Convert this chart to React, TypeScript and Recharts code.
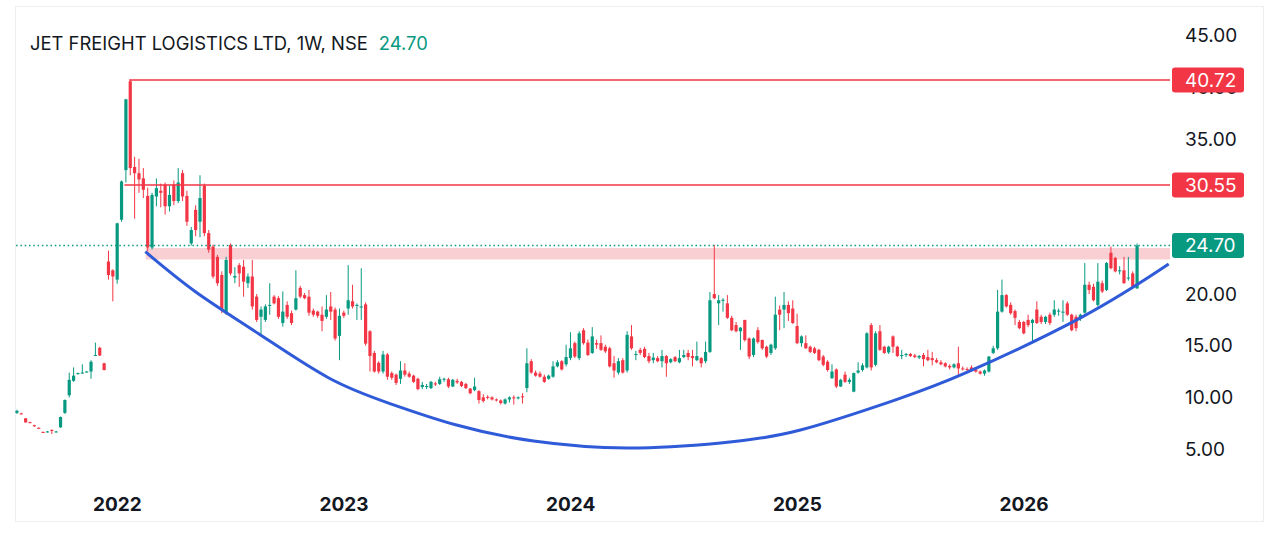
import React from 'react';
import { ComposedChart, Bar, Line, XAxis, YAxis, ReferenceLine, ReferenceArea } from 'recharts';

type Candle = [number, number, number, number]; // open, high, low, close

const candles2021: Candle[] = [
  [8.5, 8.8, 8.4, 8.7], [8.45, 8.5, 8.35, 8.4], [7.97, 8.0, 7.55, 7.58], [7.6, 7.65, 7.5, 7.55],
  [7.3, 7.35, 7.15, 7.2], [7.05, 7.1, 6.95, 7.0], [6.65, 6.7, 6.55, 6.6], [6.65, 6.75, 6.6, 6.7],
  [6.85, 6.9, 6.45, 6.75], [6.65, 6.75, 6.6, 6.7], [7.1, 8.15, 7.05, 8.1], [8.5, 9.8, 8.4, 9.74],
  [10.2, 12.4, 10.0, 11.7], [11.6, 12.9, 11.5, 12.1], [12.3, 12.4, 12.2, 12.35], [12.35, 13.2, 12.3, 12.4],
  [12.45, 12.55, 12.4, 12.5], [12.5, 13.6, 11.8, 13.45], [14.05, 15.3, 14.0, 14.1], [14.8, 14.9, 14.0, 14.05],
  [13.3, 13.35, 12.6, 12.65], [23.15, 24.2, 21.4, 21.85], [22.3, 22.4, 19.3, 21.7],
];

const candles2022: Candle[] = [
  [21.4, 26.9, 21.0, 26.85], [27.2, 31.0, 27.0, 30.9], [32.0, 38.9, 30.8, 38.85], [40.6, 40.72, 31.5, 32.2],
  [32.3, 33.3, 27.3, 31.7], [31.7, 33.1, 29.8, 31.1], [31.2, 32.2, 29.3, 30.1], [29.5, 30.3, 24.15, 24.5],
  [24.5, 29.8, 24.3, 29.6], [29.45, 31.2, 28.5, 30.25], [30.0, 30.7, 28.4, 29.8], [30.6, 30.8, 27.7, 28.5],
  [28.5, 30.5, 28.0, 29.6], [30.6, 31.0, 28.6, 29.0], [29.0, 32.2, 28.8, 30.8], [31.7, 32.0, 29.0, 29.45],
  [29.5, 30.0, 26.6, 27.0], [24.9, 26.5, 24.7, 26.2], [28.15, 28.6, 25.6, 26.2], [27.0, 31.5, 25.5, 29.3],
  [30.5, 30.7, 25.6, 25.9], [25.9, 26.2, 24.0, 24.3], [24.6, 24.8, 21.5, 21.7], [23.6, 23.8, 20.8, 21.05],
  [21.85, 22.2, 18.15, 18.5], [18.15, 23.6, 18.0, 23.3], [24.75, 24.9, 21.8, 22.0], [21.6, 22.6, 21.05, 21.75],
  [22.8, 23.0, 20.7, 22.0], [22.65, 23.3, 19.75, 21.2], [21.05, 22.0, 20.6, 21.7], [21.7, 23.3, 18.5, 18.8],
  [19.75, 20.0, 17.3, 17.5], [17.8, 18.8, 16.0, 18.5], [17.5, 19.0, 17.3, 18.8], [18.9, 21.05, 18.0, 18.95],
  [19.75, 19.9, 19.0, 19.1], [19.6, 19.8, 17.6, 17.8], [17.2, 20.25, 16.85, 18.3], [18.95, 19.3, 17.6, 17.8],
  [18.15, 18.4, 17.0, 17.2], [18.5, 22.3, 18.4, 19.6], [20.6, 20.8, 19.6, 19.75], [19.9, 20.1, 19.5, 19.6],
  [19.75, 20.4, 17.9, 18.2], [18.4, 18.6, 17.8, 18.0], [18.3, 18.4, 17.7, 17.9], [18.0, 18.8, 16.4, 17.4],
  [17.8, 19.9, 17.6, 18.5], [18.8, 20.2, 17.5, 18.3], [18.5, 18.7, 15.5, 15.7], [15.95, 18.6, 13.6, 17.9],
];

const candles2023: Candle[] = [
  [18.2, 18.4, 17.7, 17.9], [18.6, 22.8, 18.0, 19.4], [19.3, 20.9, 18.6, 18.8], [18.85, 19.1, 17.5, 18.95],
  [18.7, 22.5, 17.5, 18.8], [19.0, 19.2, 15.0, 15.2], [16.4, 16.5, 12.5, 14.0], [14.3, 14.5, 12.4, 12.5],
  [13.35, 13.5, 12.3, 12.5], [12.5, 14.5, 12.3, 14.15], [14.15, 14.3, 11.7, 12.0], [12.35, 12.5, 11.7, 11.9],
  [12.2, 12.3, 11.2, 11.4], [11.8, 13.5, 11.3, 12.6], [12.6, 13.3, 12.0, 12.2], [12.3, 12.5, 11.9, 12.0],
  [12.1, 12.2, 11.4, 11.5], [11.8, 11.9, 10.7, 10.8], [11.0, 11.5, 10.8, 11.2], [11.05, 11.3, 10.8, 11.1],
  [10.9, 11.6, 10.8, 11.5], [11.35, 11.5, 11.1, 11.25], [11.3, 12.0, 11.2, 11.75], [11.7, 11.9, 11.5, 11.8],
  [11.75, 11.9, 10.9, 11.05], [11.05, 11.8, 11.0, 11.7], [11.6, 11.8, 11.3, 11.45], [11.5, 11.6, 11.0, 11.1],
  [11.3, 11.4, 10.8, 10.9], [10.85, 10.9, 10.3, 10.4], [10.7, 11.9, 10.6, 11.05], [10.6, 10.7, 9.4, 9.75],
  [10.0, 10.3, 9.5, 9.65], [10.05, 10.2, 9.8, 9.95], [10.0, 10.1, 9.7, 9.8], [9.8, 9.9, 9.6, 9.7],
  [9.7, 9.8, 9.3, 9.45], [9.4, 9.9, 9.3, 9.8], [9.8, 10.1, 9.5, 10.0], [10.0, 10.2, 9.3, 9.9],
  [9.9, 10.1, 9.8, 10.0], [10.1, 10.4, 9.4, 10.0], [10.9, 14.75, 10.5, 13.3], [13.5, 13.7, 12.3, 12.4],
  [12.4, 12.6, 12.0, 12.1], [12.3, 12.5, 11.9, 12.0], [12.0, 12.2, 11.4, 11.5], [11.8, 12.2, 11.7, 12.1],
  [12.0, 13.5, 11.9, 13.0], [13.0, 13.6, 12.9, 13.4], [13.5, 13.6, 12.6, 12.7], [13.2, 15.1, 13.0, 13.9],
];

const candles2024: Candle[] = [
  [13.8, 16.3, 13.6, 14.75], [15.25, 15.4, 13.8, 13.95], [13.8, 16.4, 13.6, 16.2], [16.5, 16.7, 15.1, 15.25],
  [15.3, 15.6, 14.0, 14.1], [14.3, 16.8, 14.2, 15.9], [15.25, 15.6, 14.7, 15.1], [15.25, 16.0, 14.5, 14.6],
  [14.9, 15.1, 14.3, 14.45], [14.75, 14.9, 12.9, 13.0], [13.3, 14.0, 11.9, 12.6], [12.4, 13.8, 12.2, 13.5],
  [13.6, 13.8, 12.3, 12.4], [12.6, 16.4, 12.4, 16.05], [15.9, 17.0, 14.6, 14.75], [14.1, 14.5, 13.6, 14.2],
  [14.6, 14.8, 14.1, 14.3], [14.7, 14.9, 13.8, 13.9], [14.0, 14.3, 13.3, 13.5], [13.6, 14.3, 13.3, 13.85],
  [13.8, 14.0, 13.4, 13.5], [13.5, 14.6, 12.9, 14.0], [14.0, 14.1, 12.0, 13.3], [13.4, 13.8, 13.3, 13.7],
  [13.9, 14.0, 13.4, 13.5], [13.4, 14.6, 13.3, 13.8], [13.9, 14.6, 13.8, 14.1], [14.3, 14.6, 13.6, 13.9],
  [14.0, 14.6, 13.0, 13.8], [13.6, 15.4, 13.5, 14.0], [13.8, 13.9, 12.9, 13.3], [13.5, 15.4, 13.3, 14.4],
  [14.4, 20.2, 14.3, 19.4], [20.0, 24.76, 19.5, 19.6], [19.1, 19.9, 17.0, 19.4], [19.35, 19.6, 18.3, 19.45],
  [19.1, 19.9, 17.6, 17.7], [17.7, 17.9, 16.4, 16.5], [17.0, 17.3, 16.3, 16.4], [16.4, 16.8, 14.6, 16.75],
  [17.5, 17.5, 15.4, 15.55], [15.7, 15.8, 13.7, 13.95], [14.1, 15.8, 13.9, 15.7], [16.5, 16.8, 15.2, 15.35],
  [15.55, 15.6, 14.6, 14.75], [14.9, 15.0, 13.8, 13.95], [14.3, 15.2, 14.1, 15.1], [14.75, 19.75, 14.6, 18.0],
  [18.5, 18.9, 16.5, 18.0], [18.5, 20.2, 16.7, 18.95], [18.95, 19.3, 17.4, 18.15], [18.6, 19.4, 17.1, 17.2],
];

const candles2025: Candle[] = [
  [16.9, 18.1, 15.15, 15.25], [15.25, 16.0, 14.9, 15.9], [15.25, 16.0, 14.7, 14.75], [14.9, 15.0, 14.3, 14.4],
  [14.75, 14.9, 14.2, 14.3], [14.6, 14.7, 13.5, 13.6], [13.95, 14.1, 13.0, 13.15], [13.45, 13.6, 12.5, 12.65],
  [11.85, 13.2, 11.8, 12.5], [12.7, 12.8, 10.9, 11.05], [11.05, 11.8, 11.0, 11.7], [12.2, 12.5, 11.4, 11.5],
  [11.5, 11.9, 11.3, 11.7], [10.55, 12.4, 10.5, 12.35], [12.4, 13.4, 12.3, 12.6], [12.65, 13.3, 12.5, 13.1],
  [12.9, 16.3, 12.8, 16.2], [17.0, 17.2, 12.6, 12.9], [13.15, 16.4, 13.0, 16.2], [16.4, 17.0, 14.5, 14.6],
  [14.9, 15.0, 14.2, 14.3], [14.35, 15.0, 14.2, 14.9], [15.9, 16.0, 14.3, 14.9], [14.9, 15.0, 13.9, 14.0],
  [14.0, 14.6, 13.7, 14.1], [14.1, 14.3, 13.9, 14.2], [14.2, 14.3, 13.9, 14.0], [14.05, 14.2, 13.8, 13.9],
  [13.85, 14.1, 13.7, 14.0], [14.1, 14.3, 13.0, 13.7], [13.9, 14.6, 13.5, 13.6], [13.8, 14.4, 13.1, 13.6],
  [13.6, 13.8, 13.3, 13.4], [13.4, 13.6, 13.1, 13.2], [13.3, 13.4, 12.9, 13.0], [13.05, 13.2, 12.7, 12.9],
  [12.9, 13.3, 12.8, 13.2], [13.3, 14.9, 12.0, 12.8], [12.8, 13.0, 12.6, 12.75], [12.75, 12.9, 12.5, 12.7],
  [12.9, 13.1, 12.5, 12.6], [12.7, 12.9, 12.4, 12.5], [12.5, 12.6, 12.2, 12.3], [12.3, 12.7, 12.1, 12.6],
  [12.5, 14.0, 12.4, 13.95], [14.3, 15.0, 14.2, 14.75], [14.75, 20.4, 14.6, 18.3], [18.3, 21.4, 18.2, 19.9],
  [19.9, 20.0, 18.7, 18.8], [18.95, 19.2, 18.0, 18.15], [18.35, 18.5, 17.0, 17.7], [17.3, 17.5, 16.6, 16.7],
];

const candles2026: Candle[] = [
  [17.3, 17.4, 16.1, 16.2], [17.5, 18.0, 16.8, 17.0], [17.2, 17.6, 15.4, 17.5], [18.5, 19.3, 17.1, 17.2],
  [17.8, 18.0, 17.1, 17.3], [17.3, 17.9, 17.1, 17.8], [18.0, 18.2, 17.0, 17.2], [18.0, 19.4, 17.8, 18.5],
  [18.3, 18.6, 17.9, 18.4], [18.2, 19.4, 17.3, 18.3], [19.1, 19.3, 17.9, 18.0], [18.0, 18.1, 16.4, 16.5],
  [17.8, 18.0, 16.4, 16.7], [17.6, 18.1, 17.4, 18.0], [18.2, 23.0, 18.1, 20.9], [20.9, 21.2, 20.0, 20.4],
  [20.7, 21.0, 19.3, 19.4], [18.95, 23.0, 18.8, 21.2], [21.05, 21.3, 20.1, 20.25], [20.4, 23.1, 20.3, 23.0],
  [24.0, 24.6, 22.4, 22.5], [23.5, 23.6, 22.1, 22.2], [22.2, 22.7, 21.9, 22.3], [22.3, 23.6, 21.0, 21.05],
  [21.5, 23.6, 21.3, 21.6], [22.0, 22.2, 20.6, 20.7], [20.55, 24.9, 20.5, 24.7],
];

const yearLabels = ['2022', '2023', '2024', '2025', '2026'];
const axisPriceTicks = [5, 10, 15, 20, 35, 40, 45];
const lastPrice = 24.7;
const resistanceTop = 40.72;
const resistanceMid = 30.55;
const resistanceTopStart = 25.7; // week index where the ray starts
const resistanceMidStart = 24.6;
const zoneLow = 23.35;
const zoneHigh = 24.45;
const zoneStart = 29.5;
const emptyWeeksRight = 7;

// cup curve drawing: [week index, price]
const cupWeeks = [29.4, 40.9, 55.4, 71.4, 85.2, 100.8, 118.5, 140, 161.4, 179.7, 201.5, 217.6, 244.4, 264.2];
const cupPrices = [24.1, 20.23, 16.16, 11.9, 9.45, 7.32, 5.77, 5.1, 5.58, 6.84, 9.75, 12.36, 17.79, 22.9];

const GREEN = '#089981';
const RED = '#f23645';
const BLUE = '#2f5ad8';
const TEXT = '#131722';
const FONT = 'Inter, "Noto Sans", sans-serif';

const tagPrices = [lastPrice, resistanceMid, resistanceTop];
const allTicks = [...axisPriceTicks, ...tagPrices]; // tags last so they paint over tick text

const yearBlocks = [candles2021, candles2022, candles2023, candles2024, candles2025, candles2026];
const allCandles: Candle[] = yearBlocks.flat();
const yearStartIdx = yearLabels.map((_, k) =>
  yearBlocks.slice(0, k + 1).reduce((s, b) => s + b.length, 0)
);
const totalSlots = allCandles.length + emptyWeeksRight;

const rows: any[] = [];
for (let i = 0; i < totalSlots; i++) {
  const cd = allCandles[i];
  if (cd) {
    const [o, h, l, c] = cd;
    rows.push({ i, o, h, l, c, range: [l, h] });
  } else {
    rows.push({ i });
  }
}
const cupData = cupWeeks.map((w, k) => ({ i: w, v: cupPrices[k] }));

const CandleShape = (props: any) => {
  const { x, y, width, height, payload } = props;
  if (!payload || payload.o == null || x == null || y == null) return null;
  const { o, h, l, c } = payload;
  const top = Math.min(y, y + height);
  const bot = Math.max(y, y + height);
  const span = h - l;
  const py = (v: number) => (span === 0 ? top : top + ((h - v) / span) * (bot - top));
  const color = c >= o ? GREEN : RED;
  const cx = x + width / 2;
  const bTop = py(Math.max(o, c));
  const bBot = py(Math.min(o, c));
  return (
    <g>
      <rect x={cx - 0.5} y={top} width={1} height={Math.max(bot - top, 1)} fill={color} />
      <rect x={cx - 1.6} y={bTop} width={3.2} height={Math.max(bBot - bTop, 1)} fill={color} />
    </g>
  );
};

const PriceTick = (props: any) => {
  const { x, y, payload } = props;
  const v = Number(payload.value);
  if (tagPrices.includes(v)) {
    const fill = v === lastPrice ? GREEN : RED;
    return (
      <g>
        <rect x={x - 13} y={y - 12.5} width={72} height={25} rx={3} fill={fill} />
        <text x={x} y={y} dy="0.36em" textAnchor="start" fill="#ffffff" fontSize={19} fontFamily={FONT}>
          {v.toFixed(2)}
        </text>
      </g>
    );
  }
  return (
    <text x={x} y={y} dy="0.35em" textAnchor="start" fill={TEXT} fontSize={19} fontFamily={FONT}>
      {v.toFixed(2)}
    </text>
  );
};

const YearTick = (props: any) => {
  const { x, y, payload } = props;
  const k = yearStartIdx.indexOf(payload.value);
  return (
    <text x={x} y={y + 24} dy="0.35em" textAnchor="middle" fill={TEXT} fontSize={19} fontWeight={700} fontFamily={FONT}>
      {k >= 0 ? yearLabels[k] : ''}
    </text>
  );
};

export default function App() {
  return (
    <div style={{ position: 'absolute', left: 0, top: 0, width: 1280, height: 540, background: '#ffffff', overflow: 'hidden' }}>
      <div
        style={{
          position: 'absolute', left: 15, top: 6, width: 1249, height: 516,
          border: '1px solid #eceef2', boxSizing: 'border-box',
        }}
      />
      <div
        style={{
          position: 'absolute', left: 30, top: 31, height: 24, lineHeight: '24px',
          fontFamily: FONT, fontSize: 18.4, color: TEXT, whiteSpace: 'nowrap',
        }}
      >
        JET FREIGHT LOGISTICS LTD, 1W, NSE
        <span style={{ color: GREEN, marginLeft: 11 }}>{lastPrice.toFixed(2)}</span>
      </div>
      <div style={{ position: 'absolute', left: 0, top: 0 }}>
        <ComposedChart width={1280} height={540} data={rows} margin={{ top: 10, right: 0, bottom: 0, left: 15 }}>
          <XAxis
            xAxisId="cat"
            dataKey="i"
            type="category"
            ticks={yearStartIdx}
            interval={0}
            height={60}
            axisLine={false}
            tickLine={false}
            tickSize={0}
            tickMargin={0}
            tick={<YearTick />}
          />
          <XAxis
            xAxisId="num"
            dataKey="i"
            type="number"
            domain={[-0.5, totalSlots - 0.5]}
            allowDataOverflow
            hide
          />
          <YAxis
            orientation="right"
            domain={[2, 47.5]}
            ticks={allTicks}
            interval={0}
            width={110}
            axisLine={false}
            tickLine={false}
            tickSize={0}
            tickMargin={15}
            tick={<PriceTick />}
            allowDataOverflow
          />
          <ReferenceArea
            xAxisId="num"
            x1={zoneStart}
            x2={totalSlots - 0.5}
            y1={zoneLow}
            y2={zoneHigh}
            fill="#f9cfd3"
            fillOpacity={1}
            stroke="none"
          />
          <ReferenceLine
            xAxisId="num"
            y={lastPrice}
            stroke={GREEN}
            strokeWidth={1.5}
            strokeDasharray="1.5 2.8"
          />
          <ReferenceLine
            xAxisId="num"
            segment={[{ x: resistanceTopStart, y: resistanceTop }, { x: totalSlots - 0.5, y: resistanceTop }]}
            stroke={RED}
            strokeWidth={1.5}
          />
          <ReferenceLine
            xAxisId="num"
            segment={[{ x: resistanceMidStart, y: resistanceMid }, { x: totalSlots - 0.5, y: resistanceMid }]}
            stroke={RED}
            strokeWidth={1.5}
          />
          <Bar xAxisId="cat" dataKey="range" shape={<CandleShape />} isAnimationActive={false} />
          <Line
            xAxisId="num"
            data={cupData}
            dataKey="v"
            type="natural"
            stroke={BLUE}
            strokeWidth={3}
            dot={false}
            activeDot={false}
            isAnimationActive={false}
          />
        </ComposedChart>
      </div>
    </div>
  );
}
